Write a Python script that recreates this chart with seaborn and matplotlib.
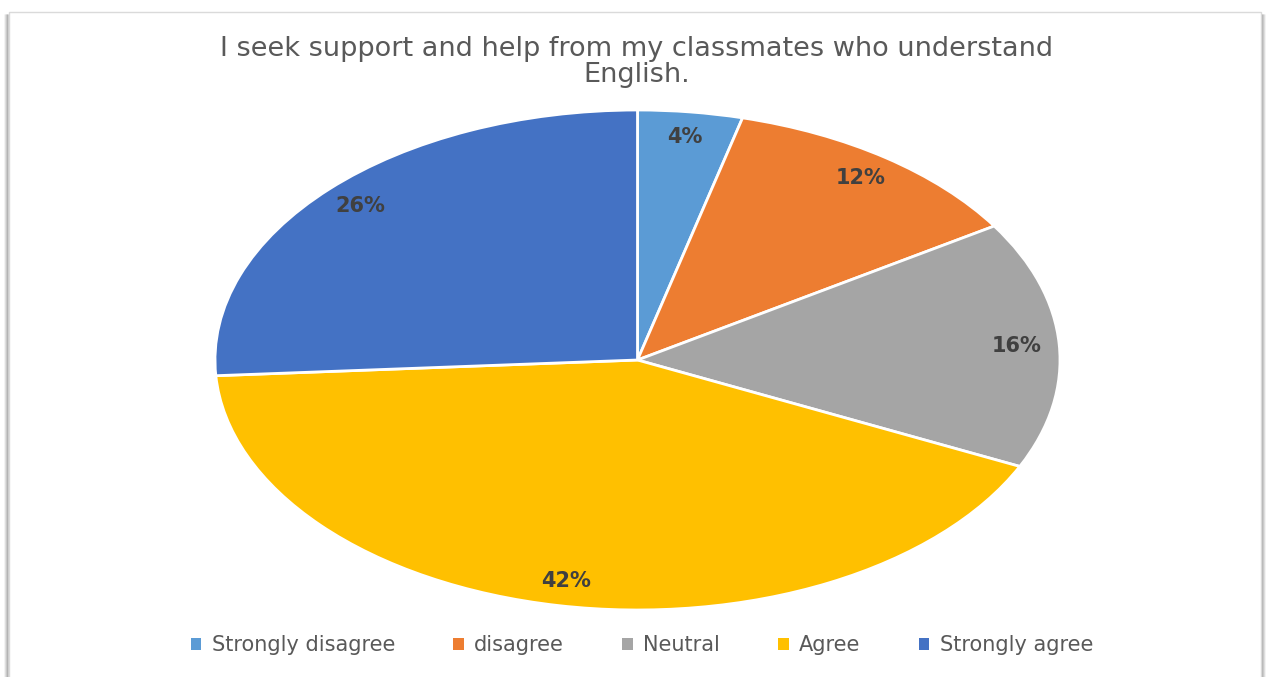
import matplotlib
matplotlib.use("Agg")
import matplotlib.pyplot as plt
from matplotlib.patches import Rectangle
from matplotlib.lines import Line2D
import seaborn as sns

categories = ["Strongly disagree", "disagree", "Neutral", "Agree", "Strongly agree"]
shares = [4, 12, 16, 42, 26]
title_text = "I seek support and help from my classmates who understand\nEnglish."

sns.set_theme(style="white")
plt.rcParams["font.family"] = ["DejaVu Sans"]

palette = sns.color_palette(["#5B9BD5", "#ED7D31", "#A5A5A5", "#FFC000", "#4472C4"])

W, H = 1267, 677
fig = plt.figure(figsize=(W / 100, H / 100), dpi=100)
fig.patch.set_facecolor("white")

# chart-area frame: light border, soft shadow on the left and right sides
top_y = 1 - 12 / H
for i, a in enumerate([0.08, 0.16, 0.26, 0.36]):
    for x in (5 + i, 1265 - i):
        fig.lines.append(Line2D([x / W, x / W], [0, top_y - 0.004], transform=fig.transFigure,
                                color=(0.35, 0.35, 0.35, a), linewidth=1.2, zorder=0))
fig.patches.append(Rectangle((9 / W, -0.05), 1252 / W, top_y + 0.05,
                             transform=fig.transFigure, facecolor="white",
                             edgecolor="#DADADA", linewidth=1.0, zorder=0.5))

# pie axes: unit circle stretched into the ellipse of the plot area
left, right, top, bottom = 215, 1060, 110, 610
ax = fig.add_axes([left / W, (H - bottom) / H, (right - left) / W, (bottom - top) / H])
ax.set_zorder(2)
wedges, texts, autotexts = ax.pie(
    shares, colors=palette, startangle=90, counterclock=False,
    autopct=lambda p: f"{p:.0f}%", pctdistance=0.9,
    wedgeprops=dict(edgecolor="white", linewidth=2),
    textprops=dict(color="#404040", fontsize=15, fontweight="bold"),
)
ax.set_aspect("auto")
ax.set_xlim(-1, 1)
ax.set_ylim(-1, 1)
ax.axis("off")

fig.text(637 / W, 1 - 62 / H, title_text, ha="center", va="center",
         fontsize=19.5, color="#595959", linespacing=1.0, zorder=3)

handles = [Rectangle((0, 0), 1, 1, facecolor=c, edgecolor="none") for c in palette]
leg = fig.legend(handles, categories, loc="center", bbox_to_anchor=(642 / W, 1 - 645 / H),
                 ncol=5, frameon=False, fontsize=15, handlelength=0.5, handleheight=0.5,
                 handletextpad=0.5, columnspacing=2.8, labelcolor="#595959")
leg.set_zorder(3)

fig.savefig("out.png", dpi=100, facecolor="white")
